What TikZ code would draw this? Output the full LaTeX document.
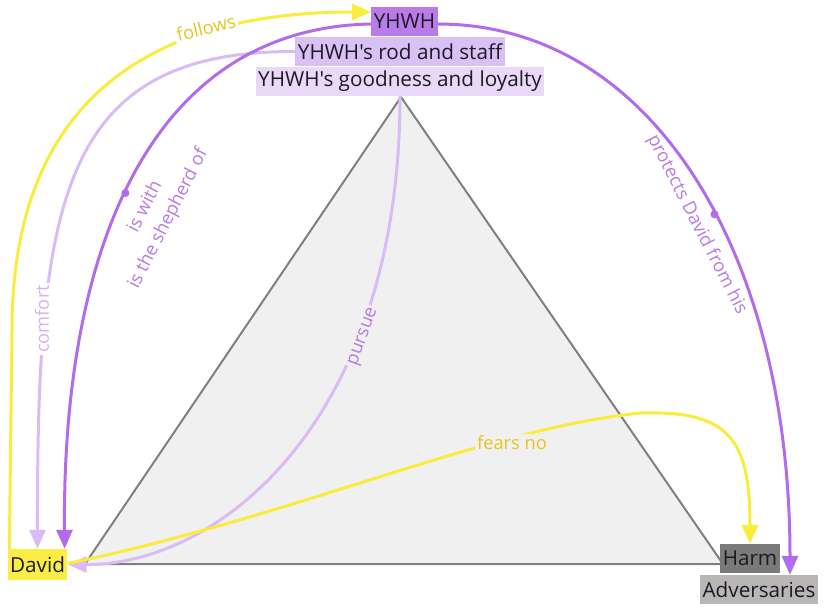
\documentclass[tikz,border=0pt]{standalone}
\usepackage{fontspec}
\newfontfamily\osans{Open Sans}
\usetikzlibrary{arrows.meta}
\definecolor{yel}{HTML}{F9EC3C}
\definecolor{yeltext}{HTML}{E9C420}
\definecolor{dpur}{HTML}{B06CEA}
\definecolor{lpur}{HTML}{D9BBF5}
\definecolor{purtext}{HTML}{B67AE6}
\definecolor{lpurtext}{HTML}{D4B4F2}
\definecolor{yhwhfill}{HTML}{B97AEA}
\definecolor{rodfill}{HTML}{D9C0F5}
\definecolor{goodfill}{HTML}{E9D8F8}
\definecolor{davidfill}{HTML}{FAEE46}
\definecolor{harmfill}{HTML}{7A7A7A}
\definecolor{advfill}{HTML}{B9B6B6}
\definecolor{trifill}{HTML}{F0F0F0}
\definecolor{tridraw}{HTML}{808080}
\definecolor{ink}{HTML}{1C1A24}
\begin{document}
\begin{tikzpicture}[x=1pt,y=-1pt,
  box/.style={inner xsep=2.5pt, inner ysep=0pt, minimum height=29pt, text=ink,
    font=\osans\fontsize{20.7}{24}\selectfont},
  lbl/.style={font=\osans\fontsize{18.3}{26}\selectfont, inner sep=2pt},
  conn/.style={line width=3pt, -{Triangle[length=19pt,width=16pt]}},
  middot/.style={circle, fill=dpur, inner sep=0pt, minimum size=8pt}]
\useasboundingbox (0,0) rectangle (825,611);
% triangle
\draw[fill=trifill, draw=tridraw, line width=2pt, line join=round] (401,97) -- (85,564) -- (723,564) -- cycle;
% nodes
\node[box, fill=yhwhfill] (yhwh) at (404.5,21) {YHWH};
\node[box, fill=rodfill] (rod) at (400,51.5) {YHWH's rod and staff};
\node[box, fill=goodfill] (good) at (400,81) {YHWH's goodness and loyalty};
\node[box, fill=davidfill, minimum height=31pt] (david) at (37.5,564.5) {David};
\node[box, fill=harmfill] (harm) at (750,558.5) {Harm};
\node[box, fill=advfill] (adv) at (759,589.5) {Adversaries};
% connectors
\draw[conn, yel] ([xshift=2pt]david.north west) -- (12,330) .. controls (12,100) and (150,12) .. ([yshift=9pt]yhwh.west);
\draw[conn, lpur] (rod.west) .. controls (60,51) and (37,200) .. (david.north);
\draw[conn, dpur] ([yshift=-3pt]yhwh.west) .. controls (150,28) and (62,250) .. ([xshift=-3pt]david.north east) node[pos=0.53, middot] (dotl) {};
\draw[conn, dpur] ([yshift=-3pt]yhwh.east) .. controls (650,24) and (790,250) .. ([xshift=31pt]adv.north) node[pos=0.56, middot] (dotr) {};
\draw[conn, lpur] (good.south) .. controls (400,420) and (220,565) .. (david.east);
\draw[conn, yel] ([yshift=1pt]david.east) .. controls (300,515) and (480,430) .. (640,413) .. controls (730,410) and (750,440) .. (harm.north);
% labels
\node[lbl, text=yeltext, fill=white, rotate=14] (lfollows) at (206,28) {follows};
\node[lbl, text=lpurtext, fill=white, rotate=90] (lcomfort) at (42,319) {comfort};
\node[lbl, text=purtext, rotate=63, align=center] (lwith) at (157,213) {is with\\is the shepherd of};
\node[lbl, text=purtext, rotate=-63] (lprot) at (697,225) {protects David from his};
\node[lbl, text=purtext, fill=trifill, rotate=70] (lpursue) at (364,337) {pursue};
\node[lbl, text=yeltext, fill=trifill] (lfears) at (512,443) {fears no};
\end{tikzpicture}
\end{document}
